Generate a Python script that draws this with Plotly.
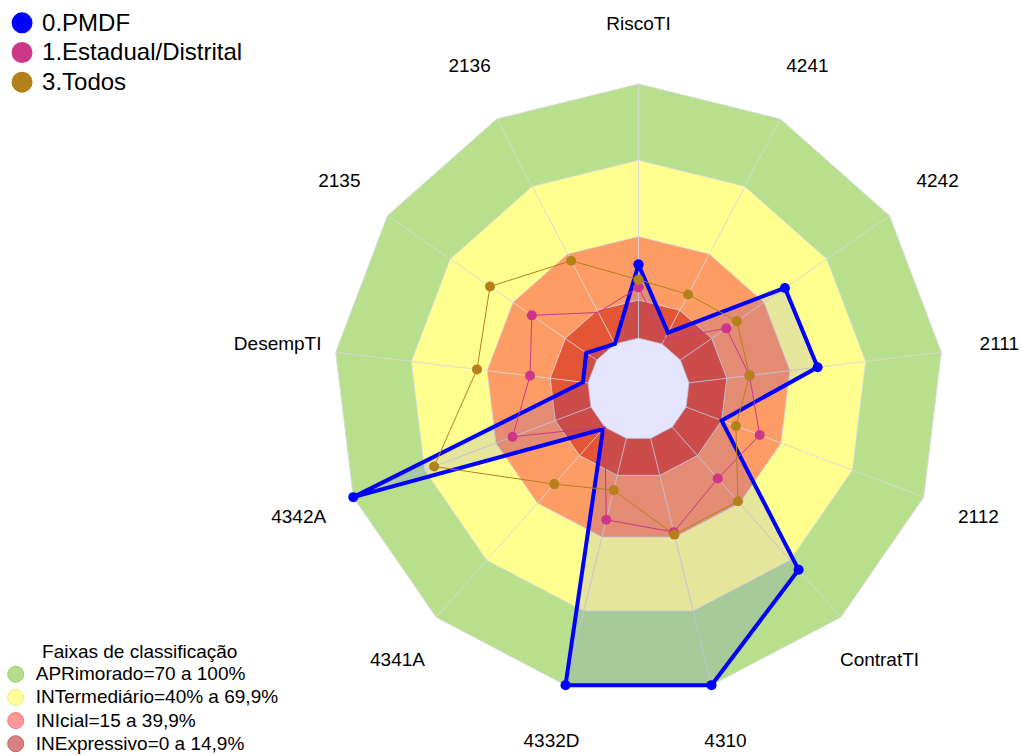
import plotly.graph_objects as go

# ---------------- data ----------------
categories = ["RiscoTI", "4241", "4242", "2111", "2112", "ContratTI", "4310",
              "4332D", "4341A", "4342A", "DesempTI", "2135", "2136"]
pmdf = [29, 5, 50, 51, 15, 75, 100, 100, 1, 100, 2, 5, 0]
estadual = [20, 2, 22, 24, 31, 27, 38, 33, 0, 33, 23, 31, 14]
todos = [23, 22, 27, 24, 21, 39, 39, 21, 30, 66, 44, 51, 37]

series_names = ["0.PMDF", "1.Estadual/Distrital", "3.Todos"]
series_colors = ["#0000ff", "#cd3787", "#b3801a"]

band_title = "Faixas de classificação"
band_names = ["APRimorado=70 a 100%", "INTermediário=40% a 69,9%",
              "INIcial=15 a 39,9%", "INExpressivo=0 a 14,9%"]
band_low = [70, 40, 15, 0]
band_high = [100, 70, 40, 15]
band_fill = ["#b8e08c", "#ffff90", "#fd9c64", "#e35534"]
band_legend = ["#b5dd8a", "#ffff99", "#ff9999", "#d98080"]
band_legend_line = ["#9fcf70", "#ecec74", "#f07a7a", "#c86464"]
grid_levels = [0, 15, 40, 70, 100]

FONT = "Liberation Sans, Arial, sans-serif"
LABEL_R = 123

fig = go.Figure()

closed = categories + [categories[0]]

# classification bands (rings)
for lo, hi, col in zip(band_low, band_high, band_fill):
    fig.add_trace(go.Scatterpolar(
        r=[hi] * len(closed) + [lo] * len(closed),
        theta=closed + closed[::-1],
        mode="none", fill="toself", fillcolor=col,
        showlegend=False, hoverinfo="skip"))

# grid: polygons and spokes
for g in grid_levels:
    fig.add_trace(go.Scatterpolar(
        r=[g] * len(closed), theta=closed, mode="lines",
        line=dict(color="rgba(215,215,220,0.85)", width=1),
        showlegend=False, hoverinfo="skip"))
sp_r, sp_t = [], []
for c in categories:
    sp_r += [grid_levels[0], grid_levels[-1], None]
    sp_t += [c, c, None]
fig.add_trace(go.Scatterpolar(
    r=sp_r, theta=sp_t, mode="lines",
    line=dict(color="rgba(215,215,220,0.9)", width=1),
    showlegend=False, hoverinfo="skip"))

# data series
fig.add_trace(go.Scatterpolar(
    r=pmdf + [pmdf[0]], theta=closed, mode="lines+markers",
    line=dict(color=series_colors[0], width=4),
    marker=dict(size=10, color=series_colors[0]),
    fill="toself", fillcolor="rgba(0,0,255,0.1)",
    name=series_names[0], showlegend=False))
fig.add_trace(go.Scatterpolar(
    r=estadual + [estadual[0]], theta=closed, mode="lines+markers",
    line=dict(color=series_colors[1], width=1),
    marker=dict(size=10, color=series_colors[1]),
    name=series_names[1], showlegend=False))
fig.add_trace(go.Scatterpolar(
    r=todos + [todos[0]], theta=closed, mode="lines+markers",
    line=dict(color=series_colors[2], width=1),
    marker=dict(size=10, color=series_colors[2]),
    name=series_names[2], showlegend=False))

# category labels
fig.add_trace(go.Scatterpolar(
    r=[LABEL_R] * len(categories), theta=categories, mode="text",
    text=categories, textposition="middle center", cliponaxis=False,
    textfont=dict(family=FONT, size=19, color="black"),
    showlegend=False, hoverinfo="skip"))

# legend entries (series)
for n, c in zip(series_names, series_colors):
    fig.add_trace(go.Scatterpolar(
        r=[None], theta=[None], mode="markers",
        name="<span style='font-size:24px'>%s</span>" % n,
        marker=dict(size=16, color=c, line=dict(width=5, color=c)),
        legend="legend"))

# legend entries (bands)
for n, c, lc in zip(band_names, band_legend, band_legend_line):
    fig.add_trace(go.Scatterpolar(
        r=[None], theta=[None], mode="markers",
        name="<span style='font-size:19px'>%s</span>" % n,
        marker=dict(size=16, color=c, line=dict(width=1, color=lc)),
        legend="legend2"))

W, H = 1022, 756
fig.update_layout(
    width=W, height=H,
    margin=dict(l=0, r=0, t=0, b=0, autoexpand=False),
    paper_bgcolor="white",
    font=dict(family=FONT, color="black"),
    polar=dict(
        domain=dict(x=[0.26663, 0.98288], y=[0.001323, 0.969577]),
        bgcolor="rgba(0,0,0,0)",
        gridshape="linear",
        radialaxis=dict(range=[-20, 124], visible=False, showgrid=False),
        angularaxis=dict(direction="clockwise", rotation=90, type="category",
                         categoryarray=categories, showticklabels=False,
                         showgrid=False, showline=False, ticks=""),
    ),
    legend=dict(x=0.002, y=0.996, xanchor="left", yanchor="top",
                bgcolor="rgba(0,0,0,0)",
                font=dict(family=FONT, size=20.5, color="black")),
    legend2=dict(x=-0.0042, y=0.1627, xanchor="left", yanchor="top",
                 bgcolor="rgba(0,0,0,0)",
                 title=dict(text=band_title, side="top center",
                            font=dict(family=FONT, size=19, color="black")),
                 font=dict(family=FONT, size=15.5, color="black")),
)

fig.write_html(
    "out.html",
    config={"displayModeBar": False},
    post_script="document.body.style.margin='0px';"
                "document.body.style.overflow='hidden';")
